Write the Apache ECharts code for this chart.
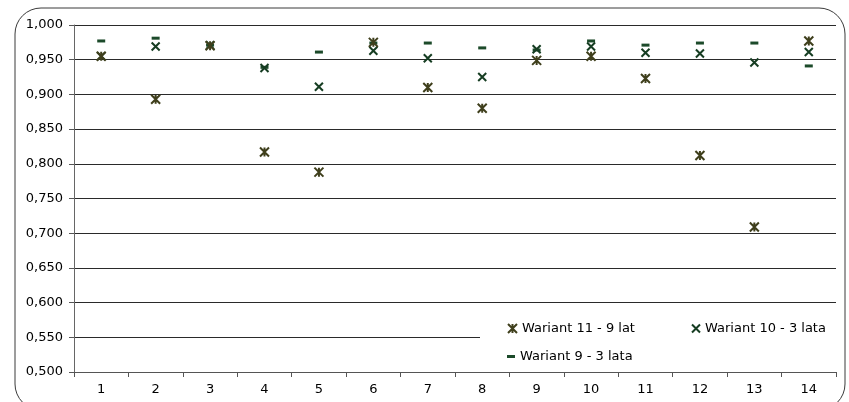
<!DOCTYPE html>
<html>
<head>
<meta charset="utf-8">
<script src="https://cdn.jsdelivr.net/npm/echarts@6/dist/echarts.min.js"></script>
<style>
  html, body { margin: 0; padding: 0; background: #fff; }
  #chart { width: 849px; height: 402px; }
</style>
</head>
<body>
<div id="chart"></div>
<script>
// Category labels along the x axis
const categories = ['1', '2', '3', '4', '5', '6', '7', '8', '9', '10', '11', '12', '13', '14'];

// Series values
const wariant11 = [0.955, 0.893, 0.970, 0.817, 0.788, 0.975, 0.910, 0.880, 0.949, 0.955, 0.923, 0.812, 0.709, 0.977];
const wariant10 = [0.955, 0.969, 0.971, 0.938, 0.911, 0.963, 0.952, 0.925, 0.965, 0.969, 0.960, 0.959, 0.946, 0.961];
const wariant9  = [0.977, 0.981, 0.971, 0.939, 0.961, 0.974, 0.974, 0.967, 0.964, 0.977, 0.971, 0.974, 0.974, 0.941];

// Series names
const names = ['Wariant 11 - 9 lat', 'Wariant 10 - 3 lata', 'Wariant 9 - 3 lata'];

// Y axis range and step
const yMin = 0.5, yMax = 1.0, yStep = 0.05;

const FONT = 'DejaVu Sans';
const FS = 13;
const STAR = 'path://M0,0 L10,10 M10,0 L0,10 M5,0 L5,10';
const CROSS = 'path://M0,0 L10,10 M10,0 L0,10';

const chart = echarts.init(document.getElementById('chart'), null, { renderer: 'canvas' });

const fmt = v => v.toFixed(3).replace('.', ',');

chart.setOption({
  animation: false,
  backgroundColor: '#fff',
  textStyle: { fontFamily: FONT },
  grid: { left: 74, right: 13, top: 25, bottom: 30, containLabel: false },
  graphic: [
    {
      type: 'rect', z: -10, silent: true,
      shape: { x: 15, y: 8, width: 830, height: 402, r: 26 },
      style: { fill: 'none', stroke: '#3a3a3a', lineWidth: 1 }
    },
    {
      type: 'rect', z: 1, silent: true,
      shape: { x: 480, y: 306, width: 356, height: 65 },
      style: { fill: '#fff', stroke: 'none' }
    }
  ],
  legend: [
    {
      data: [{ name: names[0], icon: STAR }],
      left: 502, top: 317, itemWidth: 9, itemHeight: 9, itemGap: 5, z: 5,
      textStyle: { fontFamily: FONT, fontSize: FS, color: '#000' },
      itemStyle: { color: 'transparent', borderColor: '#3f3f1c', borderWidth: 2 }
    },
    {
      data: [{ name: names[1], icon: CROSS }],
      left: 686, top: 317, itemWidth: 8, itemHeight: 8, itemGap: 5, z: 5,
      textStyle: { fontFamily: FONT, fontSize: FS, color: '#000' },
      itemStyle: { color: 'transparent', borderColor: '#163d22', borderWidth: 2 }
    },
    {
      data: [{ name: names[2], icon: 'rect' }],
      left: 502, top: 345, itemWidth: 8, itemHeight: 3, itemGap: 6, z: 5,
      textStyle: { fontFamily: FONT, fontSize: FS, color: '#000' },
      itemStyle: { color: '#1c4a2a' }
    }
  ],
  xAxis: {
    type: 'category',
    data: categories,
    boundaryGap: true,
    axisLine: { show: true, lineStyle: { color: '#555', width: 1 } },
    axisTick: { show: true, length: 5, alignWithLabel: false, lineStyle: { color: '#555' } },
    axisLabel: { color: '#000', fontSize: FS, fontFamily: FONT, margin: 11 },
    splitLine: { show: false }
  },
  yAxis: {
    type: 'value',
    min: yMin, max: yMax, interval: yStep,
    axisLine: { show: true, lineStyle: { color: '#666', width: 1 } },
    axisTick: { show: true, length: 5, lineStyle: { color: '#555' } },
    axisLabel: { color: '#000', fontSize: FS, fontFamily: FONT, margin: 11, formatter: fmt },
    splitLine: { show: true, lineStyle: { color: '#2a2a2a', width: 1 } }
  },
  series: [
    {
      name: names[2], type: 'scatter', data: wariant9,
      symbol: 'rect', symbolSize: [8, 3], z: 3,
      itemStyle: { color: '#1c4a2a', opacity: 1 }
    },
    {
      name: names[1], type: 'scatter', data: wariant10,
      symbol: CROSS, symbolSize: 8, z: 3,
      itemStyle: { color: 'transparent', borderColor: '#163d22', borderWidth: 2, opacity: 1 }
    },
    {
      name: names[0], type: 'scatter', data: wariant11,
      symbol: STAR, symbolSize: 9, z: 3,
      itemStyle: { color: 'transparent', borderColor: '#3f3f1c', borderWidth: 2, opacity: 1 }
    }
  ]
});
</script>
</body>
</html>
